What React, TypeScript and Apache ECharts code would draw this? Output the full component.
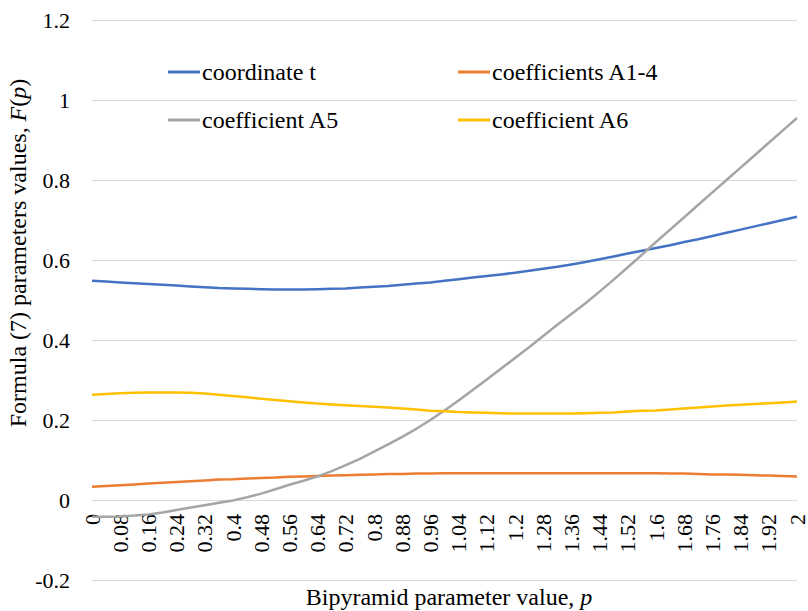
import React, { useEffect, useRef } from "react";
import * as echarts from "echarts";

const categories: string[] = [
  "0", "0.04", "0.08", "0.12", "0.16", "0.2", "0.24", "0.28", "0.32", "0.36",
  "0.4", "0.44", "0.48", "0.52", "0.56", "0.6", "0.64", "0.68", "0.72", "0.76",
  "0.8", "0.84", "0.88", "0.92", "0.96", "1", "1.04", "1.08", "1.12", "1.16",
  "1.2", "1.24", "1.28", "1.32", "1.36", "1.4", "1.44", "1.48", "1.52", "1.56",
  "1.6", "1.64", "1.68", "1.72", "1.76", "1.8", "1.84", "1.88", "1.92", "1.96", "2",
];

const coordinateT: number[] = [
  0.548, 0.546, 0.544, 0.542, 0.54, 0.538, 0.536, 0.534, 0.532, 0.53,
  0.529, 0.528, 0.527, 0.526, 0.526, 0.526, 0.527, 0.528, 0.529, 0.531,
  0.533, 0.535, 0.538, 0.541, 0.544, 0.548, 0.552, 0.556, 0.56, 0.564,
  0.568, 0.573, 0.578, 0.583, 0.589, 0.595, 0.602, 0.609, 0.616, 0.623,
  0.63, 0.637, 0.645, 0.652, 0.66, 0.668, 0.676, 0.684, 0.692, 0.7, 0.708,
];

const coeffA14: number[] = [
  0.033, 0.035, 0.037, 0.039, 0.041, 0.043, 0.045, 0.047, 0.049, 0.051,
  0.052, 0.054, 0.055, 0.056, 0.058, 0.059, 0.06, 0.061, 0.062, 0.063,
  0.064, 0.065, 0.065, 0.066, 0.066, 0.067, 0.067, 0.067, 0.067, 0.067,
  0.067, 0.067, 0.067, 0.067, 0.067, 0.067, 0.067, 0.067, 0.067, 0.067,
  0.067, 0.066, 0.066, 0.065, 0.064, 0.064, 0.063, 0.062, 0.061, 0.06, 0.059,
];

const coeffA5: number[] = [
  -0.042, -0.042, -0.041, -0.039, -0.036, -0.031, -0.025, -0.019, -0.013, -0.007,
  -0.001, 0.007, 0.016, 0.027, 0.038, 0.048, 0.059, 0.072, 0.087, 0.103,
  0.121, 0.139, 0.158, 0.178, 0.2, 0.224, 0.249, 0.275, 0.301, 0.328,
  0.355, 0.382, 0.41, 0.438, 0.465, 0.492, 0.521, 0.551, 0.582, 0.613,
  0.645, 0.676, 0.707, 0.738, 0.769, 0.8, 0.831, 0.862, 0.893, 0.924, 0.955,
];

const coeffA6: number[] = [
  0.263, 0.265, 0.267, 0.268, 0.269, 0.269, 0.269, 0.268, 0.266, 0.263,
  0.26, 0.257, 0.253, 0.25, 0.247, 0.244, 0.241, 0.239, 0.237, 0.235,
  0.233, 0.231, 0.229, 0.226, 0.223, 0.222, 0.22, 0.219, 0.218, 0.217,
  0.216, 0.216, 0.216, 0.216, 0.216, 0.217, 0.218, 0.219, 0.221, 0.223,
  0.224, 0.226, 0.229, 0.231, 0.234, 0.236, 0.238, 0.24, 0.242, 0.244, 0.246,
];

const seriesNames = ["coordinate t", "coefficients A1-4", "coefficient A5", "coefficient A6"];
const seriesColors = ["#4472C4", "#ED7D31", "#A5A5A5", "#FFC000"];

const FONT = "serif";

export default function App() {
  const ref = useRef<HTMLDivElement>(null);
  useEffect(() => {
    if (!ref.current) return;
    const chart = echarts.init(ref.current, null, { renderer: "svg" });
    const data = [coordinateT, coeffA14, coeffA5, coeffA6];
    const legendPos = [
      { left: 168, top: 60 },
      { left: 458, top: 60 },
      { left: 168, top: 108 },
      { left: 458, top: 108 },
    ];
    chart.setOption({
      animation: false,
      backgroundColor: "#ffffff",
      textStyle: { fontFamily: FONT },
      grid: { left: 92, right: 3, top: 20, bottom: 31 },
      legend: seriesNames.map((n, i) => ({
        data: [n],
        left: legendPos[i].left,
        top: legendPos[i].top,
        padding: 0,
        icon: "rect",
        itemWidth: 32,
        itemHeight: 3,
        textStyle: { fontFamily: FONT, fontSize: 24, color: "#000", lineHeight: 24, padding: [0, 0, 0, -3] },
        selectedMode: false,
      })),
      xAxis: {
        type: "category",
        data: categories,
        boundaryGap: false,
        offset: -80,
        axisLine: { onZero: false, lineStyle: { color: "#d9d9d9", width: 1 } },
        axisTick: { show: false },
        axisLabel: {
          interval: 1,
          rotate: 90,
          margin: 14,
          fontFamily: FONT,
          fontSize: 22,
          color: "#000",
        },
        splitLine: { show: false },
      },
      yAxis: {
        type: "value",
        min: -0.2,
        max: 1.2,
        interval: 0.2,
        axisLine: { show: false },
        axisTick: { show: false },
        axisLabel: {
          margin: 22,
          fontFamily: FONT,
          fontSize: 22,
          color: "#000",
          formatter: (v: number) => String(Number(v.toFixed(1))),
        },
        splitLine: { lineStyle: { color: "#d9d9d9", width: 1 } },
      },
      graphic: [
        {
          type: "text",
          x: 449,
          y: 597,
          style: {
            text: "Bipyramid parameter value, {i|p}",
            font: `24px ${FONT}`,
            fill: "#000",
            align: "center",
            verticalAlign: "middle",
            rich: { i: { fontStyle: "italic", fontSize: 24, fontFamily: FONT } },
          },
        },
        {
          type: "text",
          x: 18,
          y: 253,
          rotation: Math.PI / 2,
          style: {
            text: "Formula (7) parameters values, {i|F}({i|p})",
            font: `24px ${FONT}`,
            fill: "#000",
            align: "center",
            verticalAlign: "middle",
            rich: { i: { fontStyle: "italic", fontSize: 24, fontFamily: FONT } },
          },
        },
      ],
      series: seriesNames.map((n, i) => ({
        name: n,
        type: "line",
        data: data[i],
        showSymbol: false,
        smooth: false,
        lineStyle: { color: seriesColors[i], width: 2.5 },
        itemStyle: { color: seriesColors[i] },
      })),
    });
    return () => chart.dispose();
  }, []);
  return (
    <div
      ref={ref}
      style={{ position: "fixed", left: 0, top: 0, width: 808, height: 611 }}
    />
  );
}
